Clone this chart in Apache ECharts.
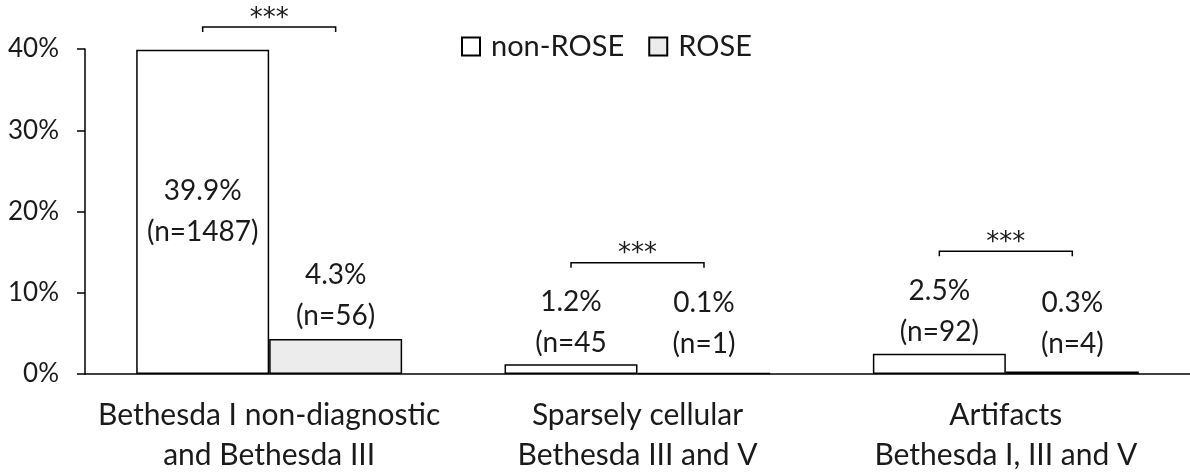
<!DOCTYPE html>
<html>
<head>
<meta charset="utf-8">
<script src="https://cdn.jsdelivr.net/npm/echarts@6/dist/echarts.min.js"></script>
<style>
  html, body { margin: 0; padding: 0; background: #ffffff; }
  #chart { width: 1190px; height: 475px; }
</style>
</head>
<body>
<div id="chart"></div>
<script>
// ---- data ----
const categories = [
  "Bethesda I non-diagnostic\nand Bethesda III",
  "Sparsely cellular\nBethesda III and V",
  "Artifacts\nBethesda I, III and V"
];
const seriesNames = ["non-ROSE", "ROSE"];
const nonRoseValues = [39.9, 1.2, 2.5];
const roseValues = [4.3, 0.1, 0.3];
const nonRoseLabels = ["39.9%\n(n=1487)", "1.2%\n(n=45", "2.5%\n(n=92)"];
const roseLabels = ["4.3%\n(n=56)", "0.1%\n(n=1)", "0.3%\n(n=4)"];
const sigLevels = [42.7, 13.7, 15.1];
const sigTexts = ["***", "***", "***"];
const yTicks = [0, 10, 20, 30, 40];

// ---- styling / layout ----
const FONT = "Lato";
const TEXT = "#1a1a1a";
const GAP = 0.278;
const nonRosePos = ["inside", "top", "top"];
const nonRoseDist = [0, 0.5, 1.5];
const rosePos = ["top", "top", "top"];
const roseDist = [2.5, 8.7, 7];

function barData(values, labels, pos, dist) {
  return values.map((v, i) => ({
    value: v,
    label: { position: pos[i], distance: dist[i], formatter: labels[i] }
  }));
}

const chart = echarts.init(document.getElementById("chart"), null, { renderer: "canvas" });

const labelStyle = {
  show: true,
  fontFamily: FONT,
  fontSize: 28,
  lineHeight: 41,
  color: TEXT
};

const option = {
  animation: false,
  backgroundColor: "#ffffff",
  textStyle: { fontFamily: FONT },
  legend: {
    data: seriesNames,
    left: 456,
    top: 27,
    icon: "rect",
    itemWidth: 18,
    itemHeight: 18,
    itemGap: 24,
    textStyle: { fontFamily: FONT, fontSize: 29, color: TEXT, padding: [0, 0, 0, 6] }
  },
  grid: { left: 85, top: 49, bottom: 101, width: 1113 },
  xAxis: {
    type: "category",
    data: categories,
    axisLine: { lineStyle: { color: "#000", width: 1.5 } },
    axisTick: { show: false },
    axisLabel: {
      fontFamily: FONT, fontSize: 30, lineHeight: 40, color: TEXT, margin: 21, interval: 0
    }
  },
  yAxis: {
    type: "value",
    min: yTicks[0],
    max: yTicks[yTicks.length - 1],
    interval: 10,
    splitLine: { show: false },
    axisLine: { show: true, lineStyle: { color: "#000", width: 1.5 } },
    axisTick: { show: true, inside: false, length: 8, lineStyle: { color: "#000", width: 1.5 } },
    axisLabel: {
      fontFamily: FONT, fontSize: 26, color: TEXT, margin: 26,
      formatter: v => v + "%"
    }
  },
  series: [
    {
      name: seriesNames[0],
      type: "bar",
      barGap: "0%",
      barCategoryGap: (GAP * 100) + "%",
      itemStyle: { color: "#ffffff", borderColor: "#000", borderWidth: 1.5 },
      label: labelStyle,
      data: barData(nonRoseValues, nonRoseLabels, nonRosePos, nonRoseDist)
    },
    {
      name: seriesNames[1],
      type: "bar",
      barGap: "0%",
      barCategoryGap: (GAP * 100) + "%",
      itemStyle: { color: "#ececec", borderColor: "#000", borderWidth: 1.5 },
      label: labelStyle,
      data: barData(roseValues, roseLabels, rosePos, roseDist)
    },
    {
      type: "custom",
      clip: false,
      silent: true,
      z: 10,
      data: sigLevels.map((v, i) => [i, v]),
      renderItem: function (params, api) {
        const i = api.value(0);
        const c = api.coord([i, api.value(1)]);
        const band = api.size([1, 0])[0];
        const off = band * (1 - GAP) / 4;
        const x1 = c[0] - off, x2 = c[0] + off, y = c[1];
        return {
          type: "group",
          children: [
            {
              type: "polyline",
              shape: { points: [[x1, y + 5], [x1, y], [x2, y], [x2, y + 5]] },
              style: { stroke: "#000", lineWidth: 1.5, fill: null }
            },
            {
              type: "text",
              style: {
                x: c[0], y: y - 8, text: sigTexts[i],
                fontFamily: "DejaVu Sans", fontSize: 26, fill: TEXT,
                align: "center", verticalAlign: "middle"
              }
            }
          ]
        };
      }
    }
  ]
};

chart.setOption(option);
</script>
</body>
</html>
